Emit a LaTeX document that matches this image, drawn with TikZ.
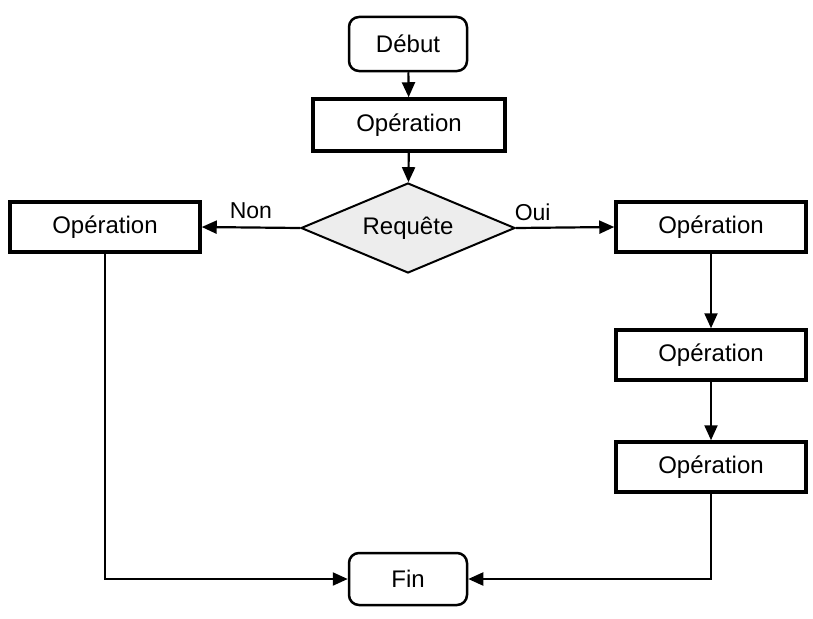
\documentclass[tikz,border=0pt]{standalone}
\usepackage{fontspec}
\setmainfont{Liberation Sans}
\usetikzlibrary{shapes.geometric,arrows.meta}
\begin{document}
\begin{tikzpicture}[x=1pt,y=-1pt,
  every node/.style={font=\fontsize{24}{28}\selectfont, inner sep=0pt},
  termbox/.style={draw, line width=2.5pt, rounded corners=10pt, minimum width=118pt, minimum height=54pt},
  opbox/.style={draw, line width=3.5pt, minimum width=190pt, minimum height=50pt},
  decbox/.style={draw, diamond, shape aspect=2.4, line width=2pt, fill=black!7, minimum width=214pt, minimum height=90pt},
  conn/.style={line width=2.2pt, -{Triangle[length=15pt,width=13pt]}},
  lbl/.style={font=\fontsize{23}{27}\selectfont}
]
\useasboundingbox (0,0) rectangle (813,618);
\node[termbox] (debut) at (408,44) {Début};
\node[opbox, minimum width=192pt, minimum height=52pt] (op1) at (409,125) {Opération};
\node[decbox] (req) at (408,228) {Requête};
\node[opbox] (opl) at (105,227) {Opération};
\node[opbox] (opr1) at (711,227) {Opération};
\node[opbox] (opr2) at (711,355) {Opération};
\node[opbox] (opr3) at (711,467) {Opération};
\node[termbox, minimum height=52pt] (fin) at (408,579) {Fin};

\draw[conn] (debut) -- (op1);
\draw[conn] (op1) -- (req);
\draw[conn] (req.west) -- node[lbl, above=8pt, pos=0.5] {Non} (opl.east);
\draw[conn] (req.east) -- node[lbl, above=6pt, pos=0.17] {Oui} (opr1.west);
\draw[conn] (opr1) -- (opr2);
\draw[conn] (opr2) -- (opr3);
\draw[conn] (opl.south) |- (fin.west);
\draw[conn] (opr3.south) |- (fin.east);
\end{tikzpicture}
\end{document}
